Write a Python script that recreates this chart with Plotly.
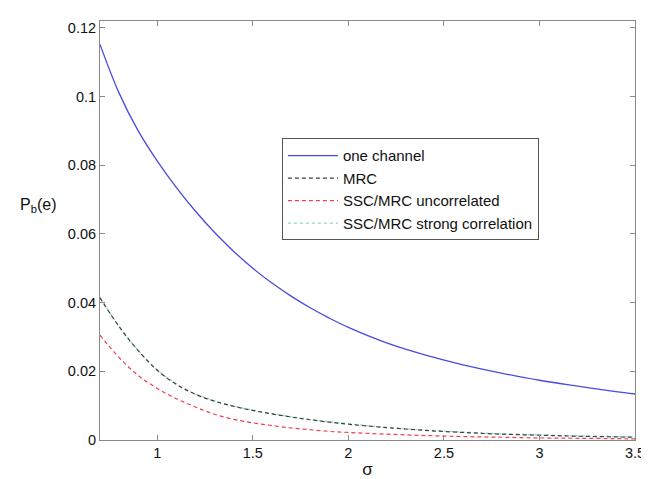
import plotly.graph_objects as go

sigma = [0.7, 0.8, 0.9, 1.0, 1.1, 1.2, 1.3, 1.4, 1.5, 1.6, 1.7, 1.8, 1.9, 2.0,
         2.2, 2.4, 2.6, 2.8, 3.0, 3.2, 3.4, 3.5]

one_channel = [0.1152, 0.1010, 0.0900, 0.0812, 0.0735, 0.0666, 0.0604, 0.0549,
               0.0500, 0.0457, 0.0419, 0.0385, 0.0355, 0.0328,
               0.0283, 0.0248, 0.0219, 0.0195, 0.0174, 0.0157, 0.0141, 0.0134]

mrc = [0.0414, 0.0330, 0.0260, 0.0203, 0.0162, 0.0133, 0.0113, 0.0098,
       0.0086, 0.0076, 0.0067, 0.0059, 0.0052, 0.0046,
       0.0036, 0.0028, 0.0022, 0.0017, 0.0014, 0.0011, 0.0009, 0.0008]

ssc_uncorr = [0.0305, 0.0240, 0.0188, 0.0150, 0.0120, 0.0096, 0.0075, 0.0060,
              0.0050, 0.0042, 0.0035, 0.0030, 0.0025, 0.0022,
              0.0017, 0.0013, 0.0010, 0.0008, 0.0006, 0.0005, 0.0004, 0.0003]

ssc_strong = [0.0415, 0.0331, 0.0261, 0.0204, 0.0163, 0.0134, 0.0114, 0.0099,
              0.0087, 0.0077, 0.0068, 0.0060, 0.0053, 0.0047,
              0.0037, 0.0029, 0.0023, 0.0018, 0.0015, 0.0012, 0.0010, 0.0009]

x_ticks = [1, 1.5, 2, 2.5, 3, 3.5]
x_ticktext = ["1", "1.5", "2", "2.5", "3", "3.5"]
y_ticks = [0, 0.02, 0.04, 0.06, 0.08, 0.1, 0.12]
y_ticktext = ["0", "0.02", "0.04", "0.06", "0.08", "0.1", "0.12"]

FONT = "Liberation Sans, Arial, Helvetica, sans-serif"

fig = go.Figure()
fig.add_trace(go.Scatter(x=sigma, y=one_channel, mode="lines", name="one channel",
                         line=dict(color="#4a4ae0", width=1.3, shape="spline"),
                         legendrank=1))
fig.add_trace(go.Scatter(x=sigma, y=ssc_strong, mode="lines", name="SSC/MRC strong correlation",
                         line=dict(color="#8fd8c8", width=1.3, dash="dot", shape="spline"),
                         legendrank=4))
fig.add_trace(go.Scatter(x=sigma, y=mrc, mode="lines", name="MRC",
                         line=dict(color="#404040", width=1.2, dash="4px,3px", shape="spline"),
                         legendrank=2))
fig.add_trace(go.Scatter(x=sigma, y=ssc_uncorr, mode="lines", name="SSC/MRC uncorrelated",
                         line=dict(color="#f04050", width=1.2, dash="4px,3px", shape="spline"),
                         legendrank=3))

axis_common = dict(showline=True, linecolor="#8a8a8a", linewidth=1, mirror="ticks",
                   ticks="inside", ticklen=5, tickcolor="#8a8a8a", showgrid=False,
                   zeroline=False, tickfont=dict(family=FONT, size=14.5, color="#111"))

fig.update_xaxes(range=[0.7, 3.5], tickvals=x_ticks, ticktext=x_ticktext,
                 title=dict(text="σ", font=dict(family=FONT, size=17, color="#111"), standoff=2),
                 **axis_common)
fig.update_yaxes(range=[0, 0.122], tickvals=y_ticks, ticktext=y_ticktext,
                 **axis_common)

fig.add_annotation(text="P<sub>b</sub>(e)", xref="paper", yref="paper",
                   x=-0.115, y=0.56, xanchor="center", yanchor="middle", showarrow=False,
                   font=dict(family=FONT, size=16, color="#111"))

fig.update_layout(
    width=649, height=479,
    margin=dict(l=92, r=13, t=13, b=39),
    paper_bgcolor="white", plot_bgcolor="white",
    showlegend=True,
    legend=dict(x=0.34, y=0.72, xanchor="left", yanchor="top",
                bordercolor="#555", borderwidth=1, bgcolor="white",
                font=dict(family=FONT, size=15, color="#111"),
                itemwidth=50, tracegroupgap=0),
)

fig.write_html("out.html")
